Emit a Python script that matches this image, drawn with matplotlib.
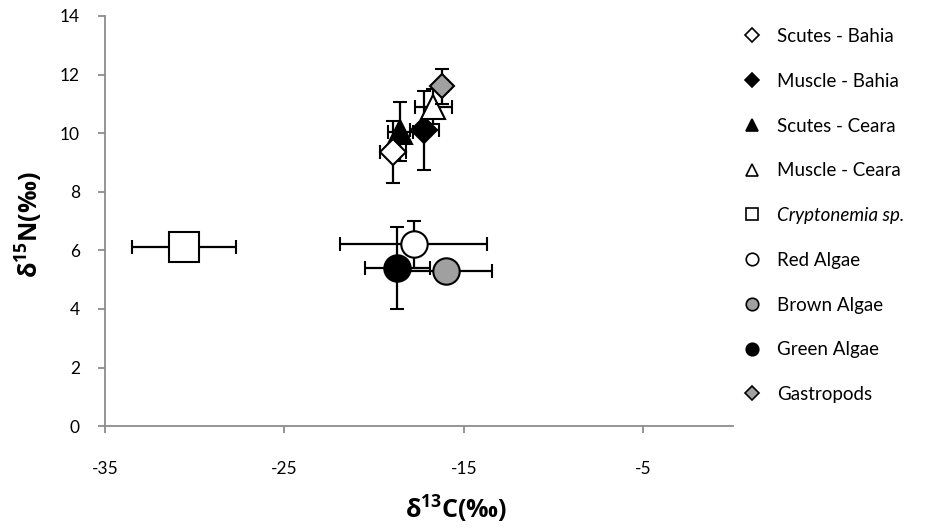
import matplotlib
matplotlib.use('Agg')
import matplotlib.pyplot as plt
from matplotlib.lines import Line2D

plt.rcParams['font.family'] = ['Lato', 'DejaVu Sans']
plt.rcParams['axes.unicode_minus'] = False
plt.rcParams['mathtext.fontset'] = 'custom'
plt.rcParams['mathtext.bf'] = 'Open Sans:bold'
plt.rcParams['mathtext.default'] = 'bf'

# series, in legend order
labels = ['Scutes - Bahia', 'Muscle - Bahia', 'Scutes - Ceara', 'Muscle - Ceara',
          'Cryptonemia sp.', 'Red Algae', 'Brown Algae', 'Green Algae', 'Gastropods']
d13c = [-18.95, -17.2, -18.55, -16.7, -30.6, -17.8, -16.0, -18.7, -16.2]
d15n = [9.35, 10.1, 10.05, 10.9, 6.1, 6.2, 5.3, 5.4, 11.6]
xerr = [0.75, 0.8, 0.7, 1.05, 2.9, 4.1, 2.55, 1.8, 0.3]
yerr = [1.05, 1.35, 1.0, 0.6, 0.3, 0.8, 0.3, 1.4, 0.6]

markers = ['D', 'D', '^', '^', 's', 'o', 'o', 'o', 'D']
faces = ['white', 'black', 'black', 'white', 'white', 'white', '#a0a0a0', 'black', '#a0a0a0']
msizes = [13, 13, 17, 17, 21, 19, 19, 19, 12]
zorders = [5, 4, 3, 4, 3, 3, 3, 4, 6]
leg_sizes = [7, 7, 9, 9, 9, 9, 9, 9, 7]

xticks = [-35, -25, -15, -5]
yticks = [0, 2, 4, 6, 8, 10, 12, 14]

fig = plt.figure(figsize=(9.25, 5.3), dpi=100)
ax = fig.add_axes([0.1135, 0.196, 0.679, 0.774])

for i in range(len(labels)):
    ax.errorbar(d13c[i], d15n[i], xerr=xerr[i], yerr=yerr[i], fmt=markers[i],
                ms=msizes[i], mfc=faces[i], mec='black', mew=1.5,
                ecolor='black', elinewidth=1.6, capsize=5, capthick=1.6,
                zorder=zorders[i])

ax.set_xlim(-35, 0)
ax.set_ylim(0, 14)
ax.set_xticks(xticks)
ax.set_yticks(yticks)
for s in ['top', 'right']:
    ax.spines[s].set_visible(False)
for s in ['left', 'bottom']:
    ax.spines[s].set_color('#8c8c8c')
    ax.spines[s].set_linewidth(1.3)
ax.tick_params(axis='both', colors='#8c8c8c', labelcolor='black', labelsize=12.5,
               length=5, width=1.3, direction='out')
ax.tick_params(axis='x', pad=20)
ax.tick_params(axis='y', pad=13)

ax.set_xlabel('δ$^{13}$C(‰)', fontsize=18, fontweight='bold',
              family=['Open Sans', 'DejaVu Sans'], va='center')
ax.xaxis.set_label_coords(0.559, -0.203)
ax.set_ylabel('δ$^{15}$N(‰)', fontsize=18, fontweight='bold',
              family=['Open Sans', 'DejaVu Sans'], va='center')
ax.yaxis.set_label_coords(-0.121, 0.49)

handles = [Line2D([], [], ls='none', marker=markers[i], ms=leg_sizes[i],
                  mfc=faces[i], mec='black', mew=1.2) for i in range(len(labels))]
leg = fig.legend(handles, labels, loc='upper left', bbox_to_anchor=(0.787, 0.979),
                 frameon=False, fontsize=13.5, labelspacing=1.48, handletextpad=0.93,
                 handlelength=0.8, borderpad=0.4)
leg.get_texts()[4].set_style('italic')

fig.savefig('out.png', dpi=100)
